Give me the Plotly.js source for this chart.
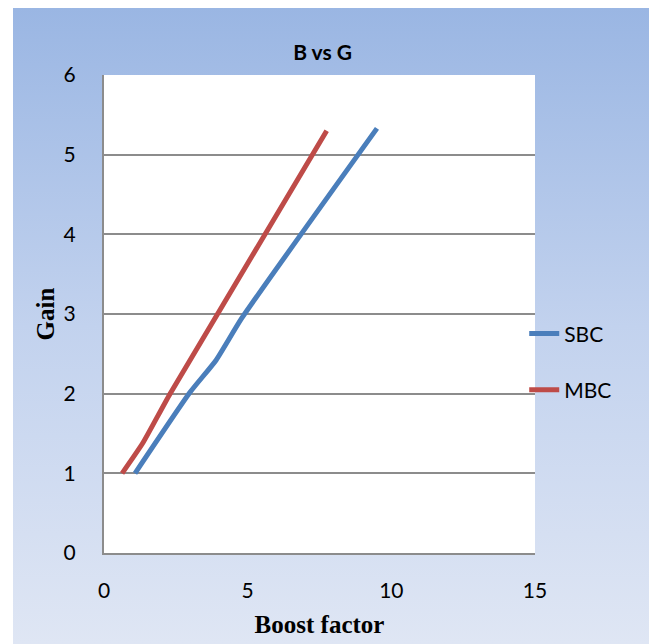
<!DOCTYPE html>
<html>
<head>
<meta charset="utf-8">
<script src="https://cdn.plot.ly/plotly-3.0.1.min.js"></script>
<style>
  html, body { margin: 0; padding: 0; background: #ffffff; }
  #bg { position: absolute; left: 13px; top: 8px; width: 636px; height: 636px;
        background: linear-gradient(to bottom, #9ab6e3 0%, #c2d2ee 50%, #dfe6f4 100%); }
  #chart { position: absolute; left: 0; top: 0; width: 649px; height: 644px; }
</style>
</head>
<body>
<div id="bg"></div>
<div id="chart"></div>
<script>
const sbcX = [1.08, 3.0, 3.9, 4.8, 9.5];
const sbcY = [1.0, 2.02, 2.42, 2.95, 5.33];
const mbcX = [0.63, 1.35, 2.3, 7.75];
const mbcY = [1.0, 1.38, 2.0, 5.30];
const xTicks = [0, 5, 10, 15];
const yTicks = [0, 1, 2, 3, 4, 5, 6];

const traces = [
  { x: sbcX, y: sbcY, name: 'SBC', mode: 'lines', legendgroup: 'a',
    line: { color: '#4a7ebb', width: 5, shape: 'spline', smoothing: 0.5 } },
  { x: mbcX, y: mbcY, name: 'MBC', mode: 'lines', legendgroup: 'b',
    line: { color: '#be4b48', width: 5, shape: 'spline', smoothing: 0.5 } }
];

const layout = {
  width: 649, height: 644,
  paper_bgcolor: 'rgba(0,0,0,0)',
  plot_bgcolor: '#ffffff',
  margin: { l: 104, r: 114, t: 75, b: 91 },
  title: { text: '<b>B vs G</b>', x: 0.497, xanchor: 'center', y: 0.918, yanchor: 'middle',
           font: { family: 'Lato, sans-serif', size: 21, color: '#000' } },
  xaxis: {
    range: [0, 15], tickvals: xTicks, ticktext: xTicks.map(String),
    showgrid: false, zeroline: false,
    showline: true, linecolor: '#8c8c8c', linewidth: 2,
    ticks: '', ticklabelstandoff: 18,
    tickfont: { family: 'Lato, sans-serif', size: 21, color: '#000' },
    title: { text: '<b>Boost factor</b>', standoff: 14,
             font: { family: 'Liberation Serif, serif', size: 25, color: '#000' } }
  },
  yaxis: {
    range: [0, 6], tickvals: yTicks, ticktext: yTicks.map(String),
    showgrid: true, gridcolor: '#8c8c8c', gridwidth: 1.5, zeroline: false,
    showline: true, linecolor: '#8c8c8c', linewidth: 2,
    ticks: '', ticklabelstandoff: 22,
    tickfont: { family: 'Lato, sans-serif', size: 21, color: '#000' },
    title: { text: '<b>Gain</b>', standoff: 2,
             font: { family: 'Liberation Serif, serif', size: 25, color: '#000' } }
  },
  showlegend: true,
  legend: {
    x: 0.975, xanchor: 'left', y: 0.40, yanchor: 'middle',
    bgcolor: 'rgba(0,0,0,0)', traceorder: 'grouped', tracegroupgap: 26,
    font: { family: 'Lato, sans-serif', size: 21, color: '#000' }
  }
};

Plotly.newPlot('chart', traces, layout, { displayModeBar: false, responsive: false });
</script>
</body>
</html>
